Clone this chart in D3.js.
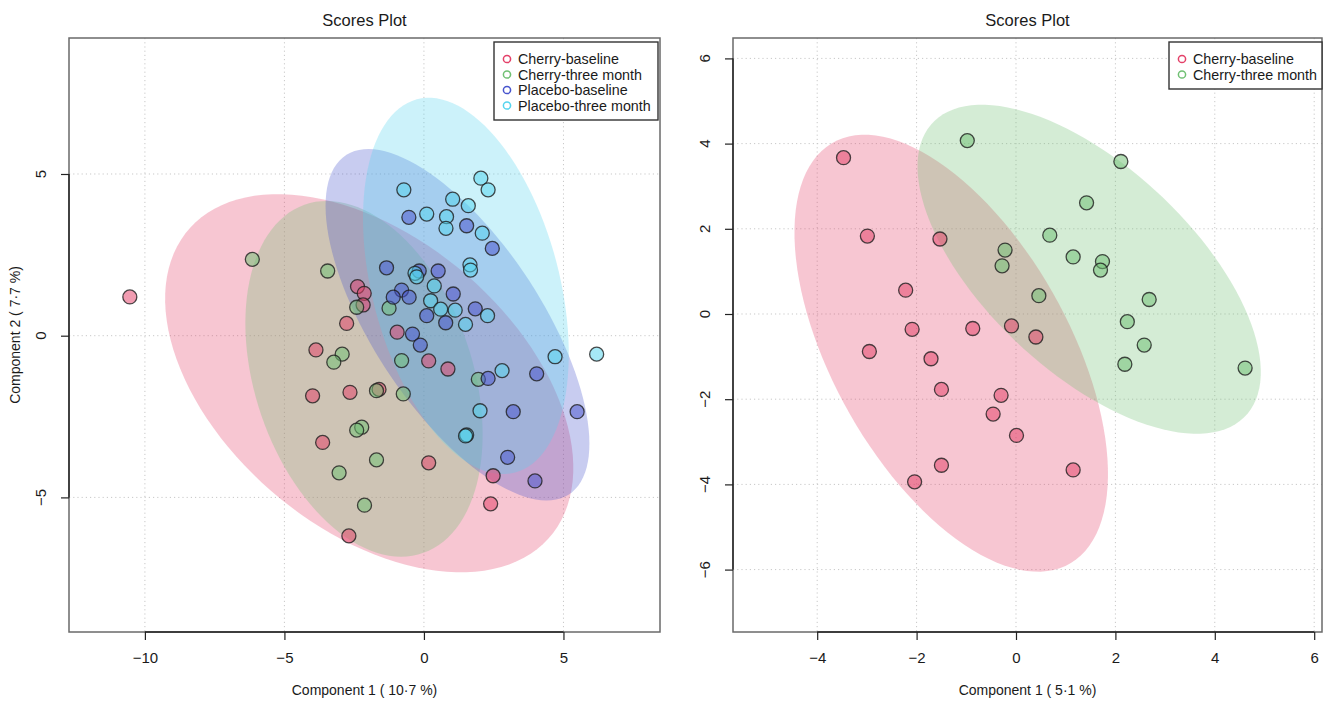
<!DOCTYPE html>
<html>
<head>
<meta charset="utf-8">
<script src="https://cdn.jsdelivr.net/npm/d3@7"></script>
<style>
  body { margin: 0; background: #ffffff; }
  text { font-family: "Liberation Sans", Arial, Helvetica, sans-serif; fill: #1a1a1a; }
</style>
</head>
<body>
<svg id="chart" width="1325" height="702"></svg>
<script>
// ---- Scores, left panel (4 groups) ----
const groupsLeft = ["Cherry-baseline", "Cherry-three month", "Placebo-baseline", "Placebo-three month"];
const cherryBaselineL = [
  [-10.54, 1.20], [-2.38, 1.52], [-2.14, 1.31], [-2.18, 0.95], [-2.77, 0.38], [-0.96, 0.11],
  [-3.87, -0.44], [0.17, -0.78], [0.86, -1.03], [-3.99, -1.86], [-2.65, -1.75], [-1.61, -1.66],
  [-3.63, -3.30], [0.17, -3.93], [2.48, -4.33], [2.39, -5.20], [-2.69, -6.19]
];
const cherryThreeL = [
  [-6.15, 2.36], [-3.45, 2.00], [-2.41, 0.88], [-1.25, 0.85], [-2.93, -0.57], [-3.23, -0.82],
  [-0.80, -0.77], [1.95, -1.35], [-1.70, -1.70], [-0.74, -1.80], [-2.23, -2.83], [-2.41, -2.92],
  [-1.70, -3.84], [-3.04, -4.24], [-2.13, -5.24]
];
const placeboBaselineL = [
  [-0.54, 3.66], [1.53, 3.40], [2.45, 2.70], [-1.34, 2.10], [-0.17, 2.00], [0.51, 2.00],
  [-0.80, 1.41], [-1.10, 1.19], [-0.53, 1.19], [1.05, 1.29], [1.84, 0.83], [0.10, 0.62],
  [0.78, 0.40], [-0.41, 0.05], [-0.13, -0.29], [2.30, -1.32], [4.04, -1.18], [3.20, -2.35],
  [5.49, -2.35], [3.00, -3.76], [3.98, -4.49]
];
const placeboThreeL = [
  [2.04, 4.87], [2.30, 4.51], [-0.72, 4.51], [1.03, 4.22], [1.59, 4.02], [0.10, 3.76],
  [0.81, 3.68], [0.79, 3.32], [2.09, 3.17], [1.65, 2.19], [1.67, 2.03], [-0.32, 1.93],
  [-0.26, 1.82], [0.37, 1.54], [0.24, 1.08], [0.60, 0.82], [1.12, 0.79], [1.49, 0.35],
  [2.28, 0.62], [4.70, -0.65], [6.19, -0.57], [2.80, -1.08], [2.01, -2.32], [1.53, -3.07],
  [1.49, -3.10]
];

// ---- Scores, right panel (cherry groups only) ----
const groupsRight = ["Cherry-baseline", "Cherry-three month"];
const cherryBaselineR = [
  [-3.47, 3.67], [-2.99, 1.83], [-1.53, 1.76], [-2.22, 0.56], [-2.09, -0.36], [-2.95, -0.88],
  [-0.87, -0.34], [-1.71, -1.05], [-1.50, -1.77], [-0.09, -0.28], [0.40, -0.54], [-0.30, -1.91],
  [-0.46, -2.35], [0.01, -2.85], [-1.50, -3.55], [-2.04, -3.94], [1.15, -3.66]
];
const cherryThreeR = [
  [-0.98, 4.07], [2.11, 3.58], [1.42, 2.61], [0.68, 1.85], [-0.22, 1.50], [-0.28, 1.13],
  [1.15, 1.34], [1.74, 1.23], [1.70, 1.03], [0.46, 0.43], [2.68, 0.34], [2.24, -0.18],
  [2.58, -0.73], [2.19, -1.18], [4.61, -1.27]
];

// ---- Axis ticks and labels ----
const ticksLeftX = [-10, -5, 0, 5];
const ticksLeftY = [-5, 0, 5];
const ticksRightX = [-4, -2, 0, 2, 4, 6];
const ticksRightY = [-6, -4, -2, 0, 2, 4, 6];
const panelTitle = "Scores Plot";
const xTitleLeft = "Component 1 ( 10·7 %)";
const yTitleLeft = "Component 2 ( 7·7 %)";
const xTitleRight = "Component 1 ( 5·1 %)";

// group colours (ellipse fill is translucent, points a bit more opaque)
const groupColors = ["#e44169", "#70c073", "#4855cd", "#55d4ee"];

const svg = d3.select("#chart");

// 95% normal-theory confidence ellipse of a point cloud
function confidenceEllipse(pts, level = 0.95, nSeg = 120) {
  const t = Math.sqrt(-2 * Math.log(1 - level)); // sqrt(qchisq(level, 2))
  const mx = d3.mean(pts, d => d[0]);
  const my = d3.mean(pts, d => d[1]);
  const sx = d3.deviation(pts, d => d[0]);
  const sy = d3.deviation(pts, d => d[1]);
  let sxy = 0;
  pts.forEach(([x, y]) => { sxy += (x - mx) * (y - my); });
  sxy /= (pts.length - 1);
  const r = sxy / (sx * sy);
  const d = Math.acos(Math.max(-1, Math.min(1, r)));
  return d3.range(nSeg).map(i => {
    const a = 2 * Math.PI * i / nSeg;
    return [mx + t * sx * Math.cos(a + d / 2), my + t * sy * Math.cos(a - d / 2)];
  });
}

function drawPanel(cfg) {
  const { left, right, top, bottom, xDomain, yDomain, xTicks, yTicks,
          groups, series, xTitle, yTitle, legend } = cfg;
  const x = d3.scaleLinear().domain(xDomain).range([left, right]);
  const y = d3.scaleLinear().domain(yDomain).range([bottom, top]);
  const g = svg.append("g");

  // title
  g.append("text").attr("x", (left + right) / 2).attr("y", 26)
    .attr("text-anchor", "middle").attr("font-size", 16.5).text(panelTitle);

  // dotted grid
  const grid = g.append("g").attr("stroke", "#c8c8c8").attr("stroke-width", 1)
    .attr("stroke-dasharray", "1.2,3");
  xTicks.forEach(v => grid.append("line")
    .attr("x1", x(v)).attr("x2", x(v)).attr("y1", top).attr("y2", bottom));
  yTicks.forEach(v => grid.append("line")
    .attr("x1", left).attr("x2", right).attr("y1", y(v)).attr("y2", y(v)));

  // confidence ellipses
  const line = d3.line().x(d => x(d[0])).y(d => y(d[1])).curve(d3.curveLinearClosed);
  const clip = "clip-" + Math.round(left);
  g.append("clipPath").attr("id", clip).append("rect")
    .attr("x", left).attr("y", top).attr("width", right - left).attr("height", bottom - top);
  const ell = g.append("g").attr("clip-path", `url(#${clip})`);
  series.forEach((pts, i) => {
    ell.append("path").attr("d", line(confidenceEllipse(pts)))
      .attr("fill", groupColors[i]).attr("fill-opacity", 0.3).attr("stroke", "none");
  });

  // score points
  const pg = g.append("g");
  series.forEach((pts, i) => {
    pg.selectAll(null).data(pts).enter().append("circle")
      .attr("cx", d => x(d[0])).attr("cy", d => y(d[1])).attr("r", 7)
      .attr("fill", groupColors[i]).attr("fill-opacity", 0.52)
      .attr("stroke", "#1e1e1e").attr("stroke-opacity", 0.8).attr("stroke-width", 1.3);
  });

  // frame
  g.append("rect").attr("x", left).attr("y", top)
    .attr("width", right - left).attr("height", bottom - top)
    .attr("fill", "none").attr("stroke", "#6a6a6a").attr("stroke-width", 1.5);

  // bottom axis
  const xa = g.append("g").attr("transform", `translate(0,${bottom})`)
    .call(d3.axisBottom(x).tickValues(xTicks).tickSize(8).tickPadding(12)
      .tickFormat(v => v < 0 ? "\u2212" + Math.abs(v) : String(v)));
  xa.select(".domain").remove();
  xa.append("line").attr("x1", x(xTicks[0])).attr("x2", x(xTicks[xTicks.length - 1]))
    .attr("stroke", "#222").attr("stroke-width", 1.4);
  xa.selectAll(".tick line").attr("stroke", "#222").attr("stroke-width", 1.2);
  xa.selectAll(".tick text").attr("font-size", 15).attr("fill", "#1a1a1a")
    .attr("font-family", "Liberation Sans, Arial, sans-serif");

  // left axis, labels parallel to the axis
  const ya = g.append("g").attr("transform", `translate(${left},0)`)
    .call(d3.axisLeft(y).tickValues(yTicks).tickSize(8).tickFormat(""));
  ya.select(".domain").remove();
  ya.append("line").attr("y1", y(yTicks[0])).attr("y2", y(yTicks[yTicks.length - 1]))
    .attr("stroke", "#222").attr("stroke-width", 1.4);
  ya.selectAll(".tick line").attr("stroke", "#222").attr("stroke-width", 1.2);
  yTicks.forEach(v => {
    g.append("text").attr("transform", `translate(${left - 23},${y(v)}) rotate(-90)`)
      .attr("text-anchor", "middle").attr("font-size", 15)
      .text(v < 0 ? "\u2212" + Math.abs(v) : String(v));
  });

  // axis titles
  g.append("text").attr("x", (left + right) / 2).attr("y", bottom + 63)
    .attr("text-anchor", "middle").attr("font-size", 14).text(xTitle);
  if (yTitle) {
    g.append("text").attr("transform", `translate(${left - 49},${(top + bottom) / 2}) rotate(-90)`)
      .attr("text-anchor", "middle").attr("font-size", 14).text(yTitle);
  }

  // legend
  const lg = g.append("g");
  const rowH = 15.5;
  lg.append("rect").attr("x", legend.x).attr("y", legend.y)
    .attr("width", legend.w).attr("height", groups.length * rowH + 16)
    .attr("fill", "#ffffff").attr("stroke", "#333").attr("stroke-width", 1.4);
  groups.forEach((name, i) => {
    const cy = legend.y + 17 + i * rowH;
    lg.append("circle").attr("cx", legend.x + 13).attr("cy", cy).attr("r", 3.6)
      .attr("fill", "none").attr("stroke", groupColors[i]).attr("stroke-width", 1.5);
    lg.append("text").attr("x", legend.x + 24).attr("y", cy + 5)
      .attr("font-size", 14.3).text(name);
  });
}

drawPanel({
  left: 69, right: 660, top: 38, bottom: 632,
  xDomain: [-12.72, 8.46], yDomain: [-9.162, 9.205],
  xTicks: ticksLeftX, yTicks: ticksLeftY,
  groups: groupsLeft,
  series: [cherryBaselineL, cherryThreeL, placeboBaselineL, placeboThreeL],
  xTitle: xTitleLeft, yTitle: yTitleLeft,
  legend: { x: 494, y: 42, w: 164 }
});

drawPanel({
  left: 733, right: 1322, top: 38, bottom: 632,
  xDomain: [-5.694, 6.157], yDomain: [-7.465, 6.479],
  xTicks: ticksRightX, yTicks: ticksRightY,
  groups: groupsRight,
  series: [cherryBaselineR, cherryThreeR],
  xTitle: xTitleRight, yTitle: null,
  legend: { x: 1169, y: 42, w: 153 }
});
</script>
</body>
</html>
